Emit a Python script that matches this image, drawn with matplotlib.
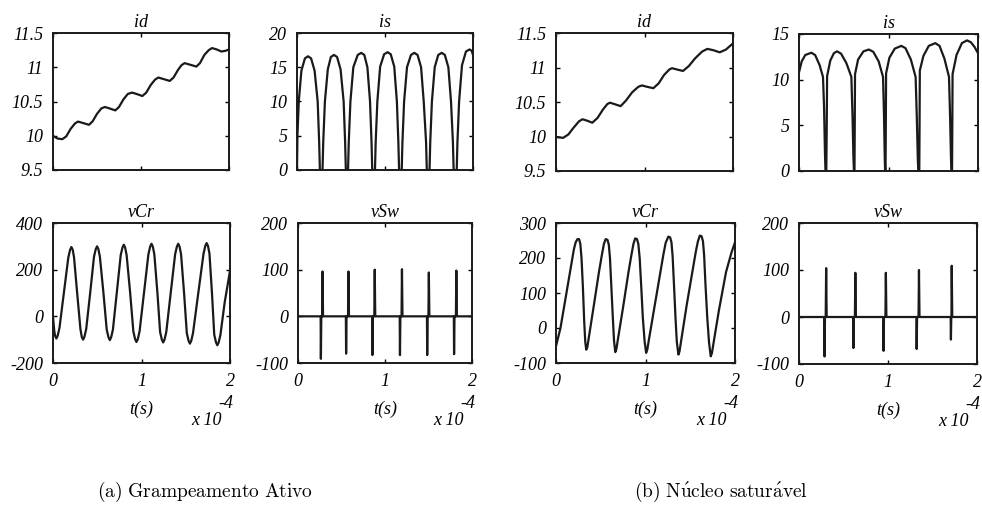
import matplotlib
matplotlib.use("Agg")
import matplotlib.pyplot as plt

plt.rcParams["mathtext.fontset"] = "cm"

# time axis in units of 1e-4 s

# (a) Grampeamento Ativo
id_a_t = [0, 0.05, 0.106, 0.15, 0.2, 0.25, 0.284, 0.33, 0.409, 0.45, 0.5, 0.55, 0.59, 0.64, 0.708,
          0.75, 0.8, 0.85, 0.898, 0.95, 1.015, 1.06, 1.11, 1.16, 1.197, 1.25, 1.326, 1.37, 1.42,
          1.46, 1.496, 1.55, 1.629, 1.67, 1.72, 1.77, 1.807, 1.86, 1.913, 1.96, 2.0]
id_a_v = [9.998, 9.96, 9.95, 9.99, 10.10, 10.18, 10.207, 10.19, 10.16, 10.21, 10.32, 10.40, 10.42,
          10.40, 10.37, 10.42, 10.53, 10.61, 10.63, 10.61, 10.58, 10.63, 10.74, 10.82, 10.85,
          10.83, 10.80, 10.85, 10.96, 11.03, 11.06, 11.04, 11.01, 11.06, 11.18, 11.25, 11.28,
          11.26, 11.23, 11.24, 11.26]

is_a_t = [0, 0.005, 0.02, 0.05, 0.09, 0.125, 0.16, 0.2, 0.235, 0.252, 0.26, 0.29,
          0.298, 0.317, 0.35, 0.385, 0.42, 0.455, 0.495, 0.53, 0.547, 0.555, 0.58,
          0.588, 0.607, 0.64, 0.69, 0.73, 0.765, 0.8, 0.83, 0.847, 0.855, 0.886,
          0.894, 0.913, 0.945, 0.99, 1.03, 1.065, 1.105, 1.135, 1.152, 1.16, 1.19,
          1.198, 1.217, 1.25, 1.295, 1.333, 1.37, 1.41, 1.44, 1.467, 1.475, 1.506,
          1.514, 1.533, 1.565, 1.605, 1.645, 1.68, 1.72, 1.75, 1.772, 1.78, 1.815,
          1.823, 1.842, 1.875, 1.92, 1.96, 1.985, 2.0]
is_a_v = [0, 5, 10, 14.5, 16.3, 16.6, 16.3, 14.5, 10, 4, 0, 0,
          4, 10, 14.7, 16.5, 16.8, 16.5, 14.7, 10, 4, 0, 0,
          4, 10, 15, 16.8, 17.1, 16.8, 15, 10, 4, 0, 0,
          4, 10, 15.1, 16.9, 17.2, 16.9, 15.1, 10, 4, 0, 0,
          4, 10, 15, 16.8, 17.1, 16.8, 15, 10, 4, 0, 0,
          4, 10, 15, 16.8, 17.1, 16.8, 15, 10, 4, 0, 0,
          4, 10, 15.3, 17.3, 17.6, 17.4, 16.8]

vcr_a_t = [0, 0.015, 0.025, 0.038, 0.053, 0.073, 0.123, 0.173, 0.193, 0.208, 0.223, 0.238, 0.273,
           0.31, 0.325, 0.34, 0.355, 0.375, 0.42, 0.463, 0.483, 0.498, 0.513, 0.53, 0.57,
           0.607, 0.627, 0.642, 0.657, 0.677, 0.721, 0.765, 0.785, 0.8, 0.815, 0.832, 0.872,
           0.908, 0.928, 0.943, 0.958, 0.978, 1.028, 1.078, 1.098, 1.113, 1.128, 1.145, 1.18,
           1.21, 1.23, 1.245, 1.26, 1.28, 1.33, 1.38, 1.4, 1.415, 1.43, 1.447, 1.481,
           1.512, 1.532, 1.547, 1.562, 1.582, 1.641, 1.701, 1.721, 1.736, 1.751, 1.768, 1.797,
           1.822, 1.842, 1.857, 1.872, 1.892, 1.94, 2.0]
vcr_a_v = [-2, -65, -85, -95, -83, -50, 101, 252, 285, 297, 285, 252, 100,
           -55, -88, -100, -88, -55, 100, 255, 288, 300, 288, 255, 100,
           -57, -90, -102, -90, -57, 102, 262, 295, 307, 295, 262, 100,
           -65, -98, -110, -98, -65, 100, 266, 299, 311, 299, 266, 100,
           -67, -100, -112, -100, -67, 100, 266, 299, 311, 299, 266, 100,
           -72, -105, -117, -105, -72, 98, 269, 302, 314, 302, 269, 95,
           -79, -112, -124, -112, -79, 60, 195]

vsw_a_t = [0, 0.26, 0.263, 0.268, 0.278, 0.282, 0.288,
           0.55, 0.553, 0.558, 0.575, 0.58, 0.586,
           0.852, 0.855, 0.86, 0.877, 0.882, 0.888,
           1.169, 1.172, 1.177, 1.19, 1.195, 1.201,
           1.482, 1.485, 1.49, 1.499, 1.504, 1.51,
           1.791, 1.794, 1.799, 1.815, 1.82, 1.826, 2.0]
vsw_a_v = [0, 0, -91, 0, 0, 96, 0,
           0, -80, 0, 0, 96, 0,
           0, -83, 0, 0, 100, 0,
           0, -83, 0, 0, 101, 0,
           0, -83, 0, 0, 94, 0,
           0, -81, 0, 0, 98, 0, 0]

# (b) Nucleo saturavel
id_b_t = [0, 0.08, 0.14, 0.2, 0.26, 0.30, 0.35, 0.41, 0.47, 0.53, 0.58, 0.61, 0.66, 0.73, 0.79,
          0.86, 0.93, 0.97, 1.03, 1.10, 1.16, 1.22, 1.28, 1.31, 1.37, 1.435, 1.50, 1.57, 1.65,
          1.71, 1.78, 1.85, 1.92, 2.0]
id_b_v = [9.995, 9.98, 10.03, 10.13, 10.22, 10.25, 10.23, 10.20, 10.27, 10.39, 10.47, 10.49,
          10.47, 10.44, 10.52, 10.64, 10.72, 10.74, 10.72, 10.70, 10.77, 10.89, 10.97, 10.99,
          10.97, 10.95, 11.02, 11.13, 11.23, 11.27, 11.25, 11.22, 11.26, 11.35]

is_b_t = [0, 0.03, 0.07, 0.138, 0.18, 0.23, 0.268, 0.28, 0.29, 0.296, 0.305, 0.31, 0.314,
          0.35, 0.39, 0.425, 0.47, 0.53, 0.585, 0.598, 0.608, 0.614, 0.62, 0.623, 0.626,
          0.66, 0.72, 0.78, 0.83, 0.89, 0.939, 0.95, 0.958, 0.962, 0.967, 0.97, 0.973,
          1.01, 1.07, 1.143, 1.19, 1.25, 1.303, 1.316, 1.327, 1.333, 1.344, 1.347, 1.35,
          1.39, 1.45, 1.523, 1.57, 1.625, 1.676, 1.688, 1.698, 1.703, 1.71, 1.713, 1.716,
          1.76, 1.82, 1.877, 1.92, 1.96, 2.0]
is_b_v = [10.8, 12.0, 12.7, 12.95, 12.7, 11.6, 10.3, 7, 2, 0, 0, 5, 10.4,
          12.1, 12.9, 13.1, 12.85, 11.8, 10.3, 6, 1.5, 0, 0, 5, 10.6,
          12.2, 13.1, 13.3, 13.05, 12.0, 10.3, 6, 1.5, 0, 0, 5, 10.7,
          12.4, 13.4, 13.7, 13.45, 12.2, 10.3, 6, 1.5, 0, 0, 5, 11.0,
          12.6, 13.7, 14.0, 13.7, 12.3, 10.3, 6, 1.5, 0, 0, 5, 10.6,
          12.7, 14.0, 14.3, 14.1, 13.6, 12.9]

vcr_b_t = [0, 0.05, 0.12, 0.17, 0.2, 0.22, 0.24, 0.258, 0.272, 0.285, 0.3, 0.315, 0.327,
           0.338, 0.35, 0.365, 0.42, 0.48, 0.51, 0.535, 0.555, 0.575, 0.59, 0.603, 0.618,
           0.635, 0.648, 0.662, 0.675, 0.69, 0.75, 0.81, 0.84, 0.865, 0.885, 0.905, 0.92,
           0.935, 0.952, 0.97, 0.99, 1.007, 1.02, 1.035, 1.1, 1.17, 1.2, 1.225, 1.255, 1.275,
           1.29, 1.303, 1.318, 1.335, 1.35, 1.368, 1.38, 1.395, 1.46, 1.53, 1.56, 1.585,
           1.607, 1.627, 1.642, 1.655, 1.67, 1.69, 1.71, 1.729, 1.742, 1.757, 1.82, 1.9,
           1.96, 2.0]
vcr_b_v = [-52, 0, 105, 180, 225, 245, 254, 254, 240, 200, 120, 20, -40,
           -62, -55, -30, 60, 160, 205, 240, 254, 252, 238, 200, 120,
           30, -35, -69, -60, -35, 60, 160, 205, 240, 256, 254, 240,
           200, 120, 30, -38, -71, -62, -38, 60, 165, 210, 243, 261, 259,
           245, 205, 125, 30, -40, -76, -67, -42, 65, 170, 215, 247,
           264, 262, 248, 208, 125, 30, -42, -81, -72, -48, 50, 160,
           215, 245]

vsw_b_t = [0, 0.284, 0.287, 0.292, 0.3, 0.305, 0.311,
           0.608, 0.611, 0.616, 0.628, 0.633, 0.639,
           0.947, 0.95, 0.955, 0.971, 0.976, 0.982,
           1.319, 1.322, 1.327, 1.343, 1.348, 1.354,
           1.704, 1.707, 1.711, 1.713, 1.716, 1.722, 2.0]
vsw_b_v = [0, 0, -84, 0, 0, 104, 0,
           0, -66, 0, 0, 94, 0,
           0, -72, 0, 0, 94, 0,
           0, -68, 0, 0, 100, 0,
           0, -48, 0, 0, 109, 0, 0]

# y ticks per panel
id_ticks = [9.5, 10, 10.5, 11, 11.5]
is_a_ticks = [0, 5, 10, 15, 20]
is_b_ticks = [0, 5, 10, 15]
vcr_a_ticks = [-200, 0, 200, 400]
vcr_b_ticks = [-100, 0, 100, 200, 300]
vsw_ticks = [-100, 0, 100, 200]
x_ticks = [0, 1, 2]

lbl_font = dict(family="Liberation Serif", style="italic", size=13)

fig = plt.figure(figsize=(9.82, 5.14), dpi=100)

def panel(px, title, t, v, yticks, bottom_row):
    # px = (x0, y0, x1, y1) in pixel coords of the figure
    x0, y0, x1, y1 = px
    ax = fig.add_axes([x0 / 982, 1 - y1 / 514, (x1 - x0) / 982, (y1 - y0) / 514])
    ax.plot(t, v, color="#1a1a1a", lw=1.6)
    ax.set_xlim(0, 2)
    ax.set_ylim(yticks[0], yticks[-1])
    ax.set_yticks(yticks)
    ax.set_yticklabels([("%g" % y) for y in yticks], fontdict=lbl_font)
    ax.set_xticks(x_ticks)
    if bottom_row:
        ax.set_xticklabels([str(x) for x in x_ticks], fontdict=lbl_font)
        ax.set_xlabel("t(s)", fontdict=lbl_font, labelpad=8)
        ax.text(0.955, -0.41, "x 10", transform=ax.transAxes, ha="right", va="center", **lbl_font)
        ax.text(1.02, -0.29, "-4", transform=ax.transAxes, ha="right", va="center", **lbl_font)
    else:
        ax.set_xticklabels([])
    ax.tick_params(direction="in", top=True, right=True, length=3, width=1, pad=7)
    for s in ax.spines.values():
        s.set_linewidth(1.4)
        s.set_color("#1a1a1a")
    ax.set_title(title, fontdict=lbl_font, pad=4)
    return ax

panel((53, 33, 229, 170), "id", id_a_t, id_a_v, id_ticks, False)
panel((297, 33, 473, 170), "is", is_a_t, is_a_v, is_a_ticks, False)
panel((53, 223, 230, 363), "vCr", vcr_a_t, vcr_a_v, vcr_a_ticks, True)
panel((298, 223, 472, 363), "vSw", vsw_a_t, vsw_a_v, vsw_ticks, True)
panel((556, 33, 733, 171), "id", id_b_t, id_b_v, id_ticks, False)
panel((799, 34, 978, 171), "is", is_b_t, is_b_v, is_b_ticks, False)
panel((556, 223, 735, 363), "vCr", vcr_b_t, vcr_b_v, vcr_b_ticks, True)
panel((799, 223, 977, 364), "vSw", vsw_b_t, vsw_b_v, vsw_ticks, True)

fig.text(205 / 982, 1 - 492 / 514, r"$\mathrm{(a)\ Grampeamento\ Ativo}$",
         ha="center", va="center", size=14)
fig.text(721 / 982, 1 - 492 / 514, r"$\mathrm{(b)\ N\acute{u}cleo\ satur\acute{a}vel}$",
         ha="center", va="center", size=14)

fig.savefig("out.png", dpi=100)
